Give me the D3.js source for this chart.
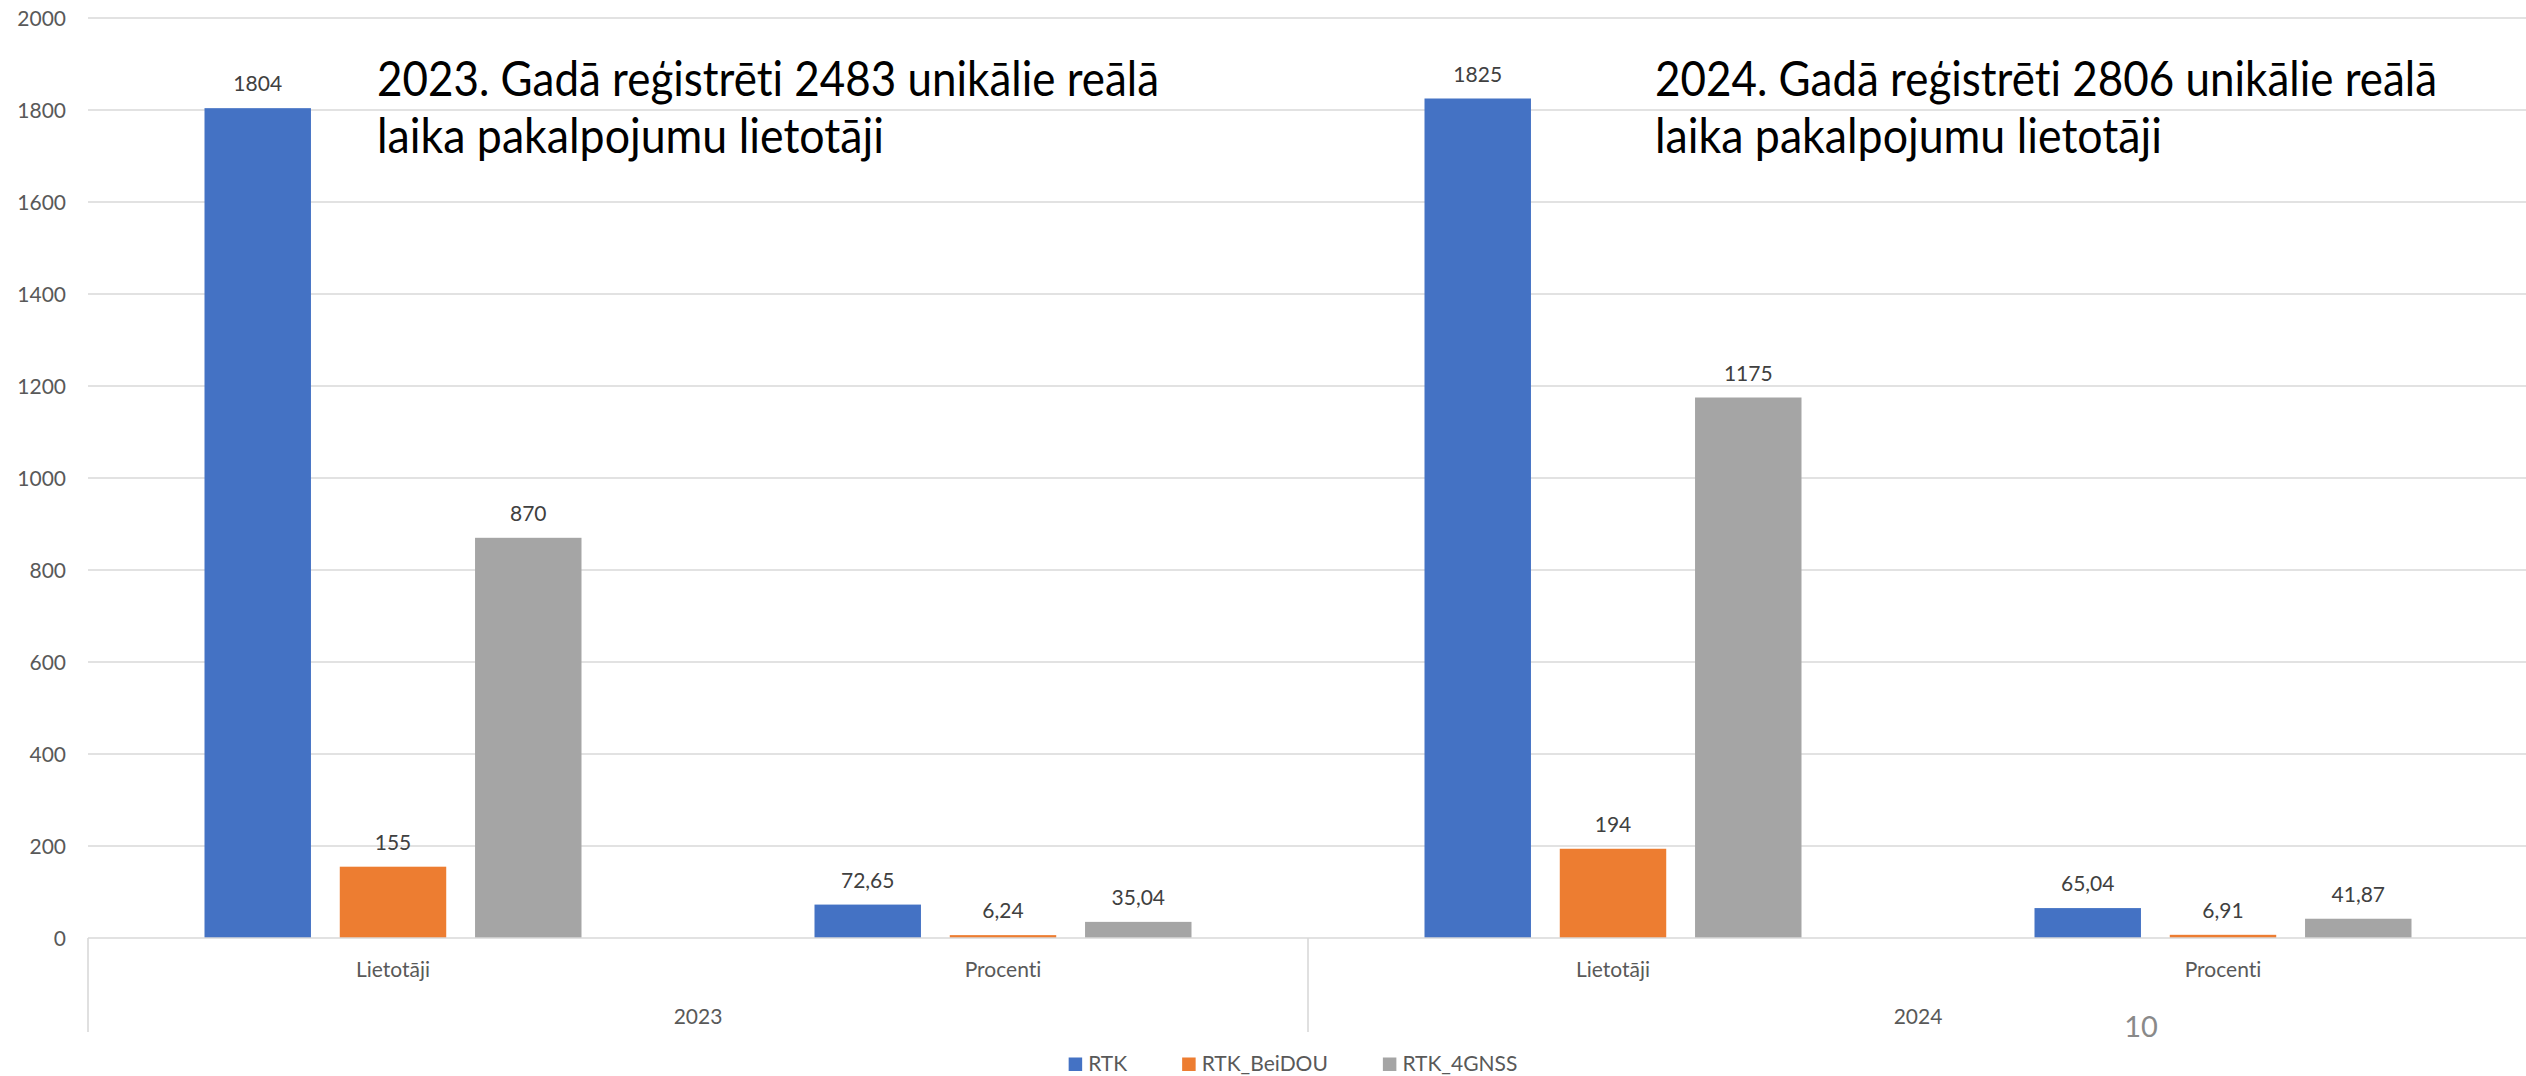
<!DOCTYPE html>
<html>
<head>
<meta charset="utf-8">
<script src="https://cdn.jsdelivr.net/npm/d3@7"></script>
<style>
  html, body { margin: 0; padding: 0; background: #ffffff; }
  svg { display: block; }
  text { font-family: Lato, "Noto Sans", sans-serif; font-variant-ligatures: none; }
</style>
</head>
<body>
<svg id="chart" width="2526" height="1076"></svg>
<script>
// ---- data ----
const years = ["2023", "2024"];
const categories = ["Lietotāji", "Procenti", "Lietotāji", "Procenti"];
const categoryYears = ["2023", "2023", "2024", "2024"];
const seriesNames = ["RTK", "RTK_BeiDOU", "RTK_4GNSS"];
const rtk = [1804, 72.65, 1825, 65.04];
const rtkBeiDOU = [155, 6.24, 194, 6.91];
const rtk4GNSS = [870, 35.04, 1175, 41.87];
const yTicks = [0, 200, 400, 600, 800, 1000, 1200, 1400, 1600, 1800, 2000];
const title2023 = ["2023. Gadā reģistrēti 2483 unikālie reālā", "laika pakalpojumu lietotāji"];
const title2024 = ["2024. Gadā reģistrēti 2806 unikālie reālā", "laika pakalpojumu lietotāji"];
const pageNumber = "10";

const seriesValues = [rtk, rtkBeiDOU, rtk4GNSS];
const colors = ["#4472C4", "#ED7D31", "#A5A5A5"];

// ---- layout ----
const svg = d3.select("#chart");
const plotLeft = 88, plotRight = 2528, plotTop = 18, plotBottom = 938;
const smallFont = 21;

const y = d3.scaleLinear().domain([0, 2000]).range([plotBottom, plotTop]);
const x0 = d3.scaleBand().domain(d3.range(categories.length)).range([plotLeft, plotRight]);
const groupW = 377;
const x1 = d3.scaleBand().domain(seriesNames)
  .range([(x0.bandwidth() - groupW) / 2, (x0.bandwidth() + groupW) / 2])
  .paddingInner(0.213);
const xYear = d3.scaleBand().domain(years).range([plotLeft, plotRight]);

const grid = "#d9d9d9";
const textGray = "#595959";

// gridlines
svg.append("g").selectAll("line").data(yTicks.filter(d => d !== 0)).join("line")
  .attr("x1", plotLeft).attr("x2", 2526)
  .attr("y1", d => y(d)).attr("y2", d => y(d))
  .attr("stroke", grid).attr("stroke-width", 1.4);

// y axis labels
const yAxis = d3.axisLeft(y).tickValues(yTicks).tickSize(0).tickPadding(0).tickFormat(d3.format("d"));
const ya = svg.append("g").attr("transform", `translate(66,0)`).call(yAxis);
ya.select(".domain").remove();
ya.selectAll("text").attr("font-size", smallFont).attr("fill", textGray)
  .attr("font-family", "Lato, 'Noto Sans', sans-serif").attr("dy", "0.34em");

// bars
const fmt = v => Number.isInteger(v) ? String(v) : d3.format(".2f")(v).replace(".", ",");
seriesNames.forEach((s, si) => {
  const g = svg.append("g");
  g.selectAll("rect").data(seriesValues[si]).join("rect")
    .attr("x", (d, i) => x0(i) + x1(s))
    .attr("y", d => y(d))
    .attr("width", x1.bandwidth())
    .attr("height", d => plotBottom - y(d))
    .attr("fill", colors[si]);
  g.selectAll("text").data(seriesValues[si]).join("text")
    .attr("x", (d, i) => x0(i) + x1(s) + x1.bandwidth() / 2)
    .attr("y", d => y(d) - 17)
    .attr("text-anchor", "middle")
    .attr("font-size", smallFont).attr("fill", "#404040")
    .text(d => fmt(d));
});

// x axis line
svg.append("line").attr("x1", plotLeft).attr("x2", 2526)
  .attr("y1", plotBottom).attr("y2", plotBottom)
  .attr("stroke", grid).attr("stroke-width", 1.6);

// year separators
const seps = [plotLeft, ...years.map(yr => xYear(yr) + xYear.bandwidth())];
svg.append("g").selectAll("line").data(seps).join("line")
  .attr("x1", d => d).attr("x2", d => d)
  .attr("y1", plotBottom).attr("y2", 1032)
  .attr("stroke", grid).attr("stroke-width", 1.6);

// category labels
svg.append("g").selectAll("text").data(categories).join("text")
  .attr("x", (d, i) => x0(i) + x0.bandwidth() / 2)
  .attr("y", 977)
  .attr("text-anchor", "middle").attr("font-size", smallFont).attr("fill", textGray)
  .text(d => d);

// year labels
svg.append("g").selectAll("text").data(years).join("text")
  .attr("x", d => xYear(d) + xYear.bandwidth() / 2)
  .attr("y", 1024)
  .attr("text-anchor", "middle").attr("font-size", smallFont).attr("fill", textGray)
  .text(d => d);

// titles (widths matched to the reference text boxes)
const titleWidths = [782, 507];
function title(lines, x) {
  const t = svg.append("g");
  lines.forEach((ln, i) => {
    t.append("text").attr("x", x).attr("y", 96 + i * 57)
      .attr("font-size", 49).attr("fill", "#000000")
      .attr("textLength", titleWidths[i]).attr("lengthAdjust", "spacingAndGlyphs")
      .text(ln);
  });
}
title(title2023, 377);
title(title2024, 1655);

// page number
svg.append("text").attr("x", 2141).attr("y", 1037).attr("text-anchor", "middle")
  .attr("font-size", 29).attr("fill", "#898989").text(pageNumber);

// legend
const leg = svg.append("g");
let cx = 0;
seriesNames.forEach((s, i) => {
  const gi = leg.append("g");
  gi.append("rect").attr("x", 0).attr("y", -13.5).attr("width", 13.5).attr("height", 13.5).attr("fill", colors[i]);
  const tx = gi.append("text").attr("x", 19.5).attr("y", 0).attr("font-size", smallFont).attr("fill", textGray).text(s);
  const w = 19.5 + tx.node().getComputedTextLength();
  gi.attr("transform", `translate(${cx},0)`);
  cx += w + 55;
});
const legW = cx - 55;
leg.attr("transform", `translate(${1293 - legW / 2},1071)`);
</script>
</body>
</html>
